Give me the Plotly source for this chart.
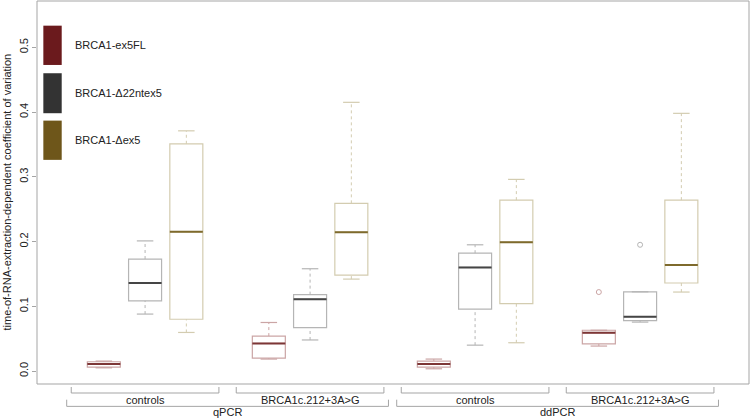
import plotly.graph_objects as go

methods = ["qPCR", "ddPCR"]
groups = ["controls", "BRCA1c.212+3A>G"]
isoforms = ["BRCA1-ex5FL", "BRCA1-\u039422ntex5", "BRCA1-\u0394ex5"]

# order of the four boxes of each isoform: qPCR controls, qPCR variant, ddPCR controls, ddPCR variant
fl_min = [0.005, 0.0185, 0.0035, 0.0386]
fl_q1 = [0.006, 0.020, 0.006, 0.042]
fl_med = [0.011, 0.0426, 0.011, 0.059]
fl_q3 = [0.0144, 0.054, 0.0154, 0.063]
fl_max = [0.0154, 0.075, 0.0185, 0.063]
fl_out = [[], [], [], [0.122]]

d22_min = [0.088, 0.048, 0.040, 0.0756]
d22_q1 = [0.1085, 0.067, 0.0957, 0.078]
d22_med = [0.136, 0.111, 0.160, 0.084]
d22_q3 = [0.173, 0.118, 0.182, 0.1224]
d22_max = [0.201, 0.158, 0.195, 0.1224]
d22_out = [[], [], [], [0.195]]

dex5_min = [0.0596, 0.142, 0.0437, 0.122]
dex5_q1 = [0.080, 0.148, 0.104, 0.136]
dex5_med = [0.215, 0.2145, 0.199, 0.1636]
dex5_q3 = [0.351, 0.259, 0.264, 0.264]
dex5_max = [0.371, 0.415, 0.296, 0.398]
dex5_out = [[], [], [], []]

stats = [
    (fl_min, fl_q1, fl_med, fl_q3, fl_max, fl_out),
    (d22_min, d22_q1, d22_med, d22_q3, d22_max, d22_out),
    (dex5_min, dex5_q1, dex5_med, dex5_q3, dex5_max, dex5_out),
]
dark = ["#6b1a1d", "#333333", "#6e561a"]
light = ["#cba5a5", "#b5b5b5", "#d3ccb0"]
med_col = ["#7d3636", "#454545", "#7e6a2c"]

fig = go.Figure()
bw = 0.8
for k, (mn, q1, md, q3, mx, out) in enumerate(stats):
    pos = [1 + 4 * g + k for g in range(4)]
    fig.add_trace(go.Box(x=pos, q1=q1, median=md, q3=q3, lowerfence=q1, upperfence=q3,
                         width=bw, whiskerwidth=0, fillcolor="rgba(0,0,0,0)",
                         line=dict(color=light[k], width=1.2), hoverinfo="skip", showlegend=False))
    wx, wy, cx, cy, mxs, mys = [], [], [], [], [], []
    for p, a, b, c, d, e in zip(pos, mn, q1, md, q3, mx):
        wx += [p, p, None, p, p, None]
        wy += [d, e, None, a, b, None]
        cx += [p - bw / 4, p + bw / 4, None, p - bw / 4, p + bw / 4, None]
        cy += [e, e, None, a, a, None]
        mxs += [p - bw / 2, p + bw / 2, None]
        mys += [c, c, None]
    fig.add_trace(go.Scatter(x=wx, y=wy, mode="lines", line=dict(color=light[k], width=1, dash="3px,3px"),
                             hoverinfo="skip", showlegend=False))
    fig.add_trace(go.Scatter(x=cx, y=cy, mode="lines", line=dict(color=light[k], width=1.2),
                             hoverinfo="skip", showlegend=False))
    fig.add_trace(go.Scatter(x=mxs, y=mys, mode="lines", line=dict(color=med_col[k], width=2),
                             hoverinfo="skip", showlegend=False))
    ox, oy = [], []
    for p, o in zip(pos, out):
        ox += [p] * len(o)
        oy += o
    if ox:
        fig.add_trace(go.Scatter(x=ox, y=oy, mode="markers",
                                 marker=dict(symbol="circle-open", size=5, color=light[k], line=dict(width=1)),
                                 hoverinfo="skip", showlegend=False))

shapes = []
annotations = []
gray = "#a5a5a5"
# legend blocks
leg_y = [(0.9356, 0.8330), (0.8114, 0.7070), (0.6877, 0.5852)]
for k, name in enumerate(isoforms):
    y1, y0 = leg_y[k]
    shapes.append(dict(type="rect", xref="paper", yref="paper", x0=0.0089, x1=0.0347, y0=y0, y1=y1,
                       fillcolor=dark[k], line=dict(width=0)))
    annotations.append(dict(text=name, xref="paper", yref="paper", x=0.0506, y=(y0 + y1) / 2,
                            xanchor="left", yanchor="middle", showarrow=False,
                            font=dict(size=11, color="#222222")))

# bracket axis labels
for m, method in enumerate(methods):
    mc = 4 + 8 * m
    shapes.append(dict(type="path", xref="x", yref="paper", line=dict(color=gray, width=1),
                       path=f"M {mc - 3.9},-0.041 L {mc - 3.9},-0.0584 L {mc + 3.9},-0.0584 L {mc + 3.9},-0.041"))
    annotations.append(dict(text=method, xref="x", yref="paper", x=mc, y=-0.0723, yanchor="middle",
                            showarrow=False, font=dict(size=11, color="#222222")))
    for g, grp in enumerate(groups):
        gc = 2 + 8 * m + 4 * g
        shapes.append(dict(type="path", xref="x", yref="paper", line=dict(color=gray, width=1),
                           path=f"M {gc - 1.79},-0.0078 L {gc - 1.79},-0.0235 L {gc + 1.79},-0.0235 L {gc + 1.79},-0.0078"))
        annotations.append(dict(text=grp, xref="x", yref="paper", x=gc, y=-0.0417, yanchor="middle",
                                showarrow=False, font=dict(size=11, color="#222222")))

annotations.append(dict(text="time-of-RNA-extraction-dependent coefficient of variation",
                        xref="paper", yref="paper", x=-0.0435, y=0.5, textangle=-90,
                        xanchor="center", yanchor="middle", showarrow=False,
                        font=dict(size=11, color="#222222")))

shapes.append(dict(type="rect", xref="paper", yref="paper", x0=0, x1=1, y0=0, y1=1,
                   line=dict(color=gray, width=1)))

ticks = [0.0, 0.1, 0.2, 0.3, 0.4, 0.5]
fig.update_layout(
    width=750, height=418,
    margin=dict(l=37, r=1, t=1, b=34, autoexpand=False),
    paper_bgcolor="white", plot_bgcolor="white",
    font=dict(family="Liberation Sans, Arial, sans-serif", size=11, color="#222222"),
    xaxis=dict(range=[-0.62, 16.64], showticklabels=False, ticks="", showgrid=False, zeroline=False,
               automargin=False),
    yaxis=dict(range=[-0.020, 0.5715], tickvals=ticks, ticktext=[f"{t:.1f}" for t in ticks],
               tickangle=-90, ticks="outside", ticklen=4, tickcolor=gray, showgrid=False, zeroline=False,
               automargin=False),
    shapes=shapes, annotations=annotations, showlegend=False,
)

fig.write_html("out.html", config={"displayModeBar": False},
               post_script="document.body.style.margin='0';")
